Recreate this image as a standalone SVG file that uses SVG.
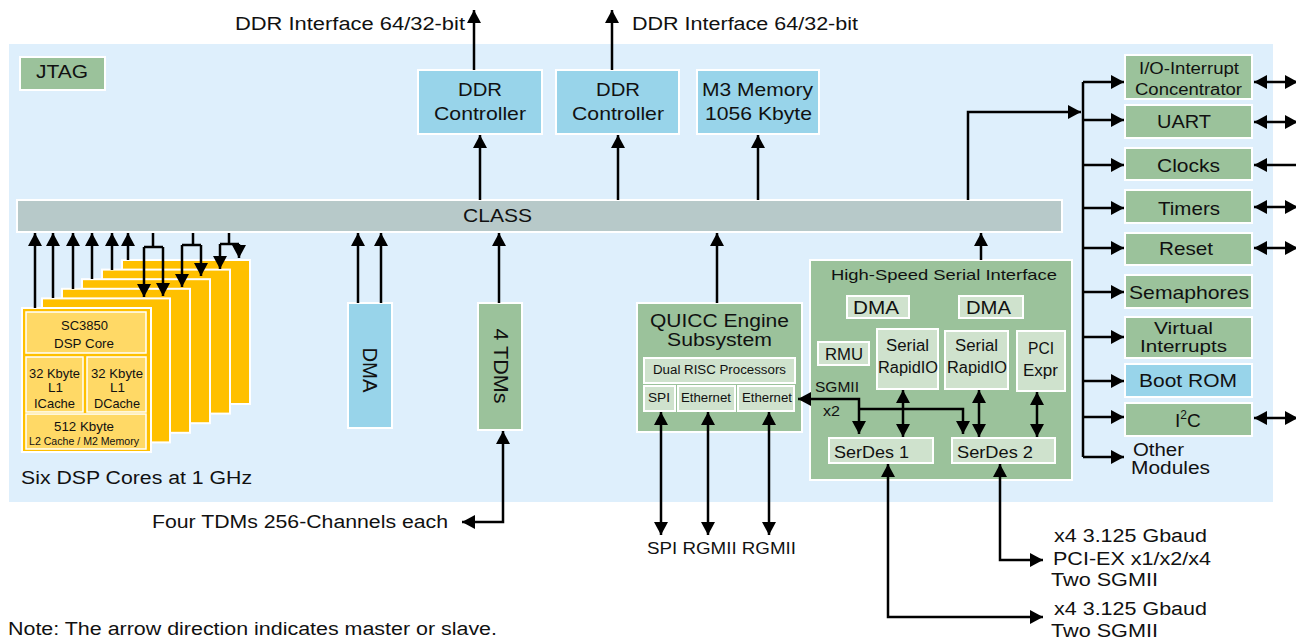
<svg xmlns="http://www.w3.org/2000/svg" width="1296" height="641" viewBox="0 0 1296 641">
<style>
text{font-family:"Liberation Sans",Arial,Helvetica,sans-serif;fill:#111}
.g{fill:#9BC29B;stroke:#fff;stroke-width:2}
.lg{fill:#CFE2CD;stroke:#fff;stroke-width:2}
.b{fill:#98D4EA;stroke:#fff;stroke-width:2}
.bus{fill:#B7C9C9;stroke:#fff;stroke-width:2}
.y{fill:#FFC000;stroke:#fff;stroke-width:2}
.ly{fill:#FFD966;stroke:#fff;stroke-width:1.5}
.ln{stroke:#000;stroke-width:2.5;fill:none}
.e{marker-end:url(#a)}
.s{marker-start:url(#a)}
</style>
<defs>
<marker id="a" viewBox="0 0 13 14" refX="13" refY="7" markerWidth="13" markerHeight="14" markerUnits="userSpaceOnUse" orient="auto-start-reverse">
<path d="M0,0L13,7L0,14z" fill="#000"/>
</marker>
</defs>
<rect x="9" y="44" width="1264" height="458" fill="#DEEFFC"/>

<g id="jtag"><rect class="g" x="20" y="57" width="85" height="33"/><text x="36" y="78" font-size="18" textLength="52" lengthAdjust="spacingAndGlyphs">JTAG</text></g>

<g id="ddr1"><rect class="b" x="418" y="70" width="124" height="64"/><text x="458" y="96" font-size="19" textLength="44" lengthAdjust="spacingAndGlyphs">DDR</text><text x="434" y="120" font-size="19" textLength="92" lengthAdjust="spacingAndGlyphs">Controller</text></g>
<g id="ddr2"><rect class="b" x="556" y="70" width="123" height="64"/><text x="596" y="96" font-size="19" textLength="44" lengthAdjust="spacingAndGlyphs">DDR</text><text x="572" y="120" font-size="19" textLength="92" lengthAdjust="spacingAndGlyphs">Controller</text></g>
<g id="m3"><rect class="b" x="697" y="70" width="122" height="64"/><text x="702" y="96" font-size="19" textLength="111" lengthAdjust="spacingAndGlyphs">M3 Memory</text><text x="705" y="120" font-size="19" textLength="107" lengthAdjust="spacingAndGlyphs">1056 Kbyte</text></g>

<g id="class"><rect class="bus" x="17" y="200" width="1045" height="32"/><text x="463" y="222" font-size="18" textLength="69" lengthAdjust="spacingAndGlyphs">CLASS</text></g>

<g id="dsp-cores">
<rect class="y" x="122" y="260" width="128" height="144"/>
<rect class="y" x="102" y="269.6" width="128" height="144"/>
<rect class="y" x="82" y="279.2" width="128" height="144"/>
<rect class="y" x="62" y="288.8" width="128" height="144"/>
<rect class="y" x="42" y="298.4" width="128" height="144"/>
<rect class="y" x="22" y="308" width="129" height="144"/>
<rect class="ly" x="26" y="312" width="120" height="41"/>
<rect class="ly" x="26" y="357" width="57" height="55"/>
<rect class="ly" x="87" y="357" width="59" height="55"/>
<rect class="ly" x="26" y="414" width="120" height="35"/>
<text x="61" y="330" font-size="13" textLength="47" lengthAdjust="spacingAndGlyphs">SC3850</text>
<text x="54" y="348" font-size="13" textLength="60" lengthAdjust="spacingAndGlyphs">DSP Core</text>
<text x="29" y="378" font-size="13" textLength="51" lengthAdjust="spacingAndGlyphs">32 Kbyte</text>
<text x="48" y="392" font-size="13" textLength="15" lengthAdjust="spacingAndGlyphs">L1</text>
<text x="34" y="408" font-size="13" textLength="41" lengthAdjust="spacingAndGlyphs">ICache</text>
<text x="91" y="378" font-size="13" textLength="52" lengthAdjust="spacingAndGlyphs">32 Kbyte</text>
<text x="110" y="392" font-size="13" textLength="15" lengthAdjust="spacingAndGlyphs">L1</text>
<text x="94" y="408" font-size="13" textLength="46" lengthAdjust="spacingAndGlyphs">DCache</text>
<text x="54" y="431" font-size="13" textLength="60" lengthAdjust="spacingAndGlyphs">512 Kbyte</text>
<text x="29" y="444.5" font-size="10" textLength="110" lengthAdjust="spacingAndGlyphs">L2 Cache / M2 Memory</text>
<text x="21" y="484" font-size="18" textLength="231" lengthAdjust="spacingAndGlyphs">Six DSP Cores at 1 GHz</text>
</g>

<g id="dma"><rect class="b" x="348" y="303" width="44" height="125"/><text transform="translate(370,370) rotate(90)" x="-22.5" y="7" font-size="20" textLength="45" lengthAdjust="spacingAndGlyphs">DMA</text></g>
<g id="tdm"><rect class="g" x="478" y="303" width="44" height="127"/><text transform="translate(501,366) rotate(90)" x="-37.5" y="7" font-size="20" textLength="75" lengthAdjust="spacingAndGlyphs">4 TDMs</text></g>

<g id="quicc">
<rect class="g" x="637" y="303" width="165" height="129"/>
<text x="650" y="327" font-size="18" textLength="139" lengthAdjust="spacingAndGlyphs">QUICC Engine</text>
<text x="667" y="346" font-size="18" textLength="105" lengthAdjust="spacingAndGlyphs">Subsystem</text>
<rect class="lg" x="644" y="358" width="151" height="25"/>
<text x="653" y="374" font-size="12" textLength="133" lengthAdjust="spacingAndGlyphs">Dual RISC Processors</text>
<rect class="lg" x="644" y="386" width="31" height="25"/>
<text x="648" y="402" font-size="12" textLength="22" lengthAdjust="spacingAndGlyphs">SPI</text>
<rect class="lg" x="678" y="386" width="57" height="25"/>
<text x="681" y="402" font-size="12" textLength="50" lengthAdjust="spacingAndGlyphs">Ethernet</text>
<rect class="lg" x="738" y="386" width="56" height="25"/>
<text x="742" y="402" font-size="12" textLength="50" lengthAdjust="spacingAndGlyphs">Ethernet</text>
</g>

<g id="hssi">
<rect class="g" x="810" y="260" width="262" height="220"/>
<text x="831" y="280" font-size="15" textLength="226" lengthAdjust="spacingAndGlyphs">High-Speed Serial Interface</text>
<rect class="lg" x="847" y="296" width="62" height="22"/>
<text x="853" y="314" font-size="19" textLength="46" lengthAdjust="spacingAndGlyphs">DMA</text>
<rect class="lg" x="959" y="296" width="64" height="22"/>
<text x="966" y="314" font-size="19" textLength="45" lengthAdjust="spacingAndGlyphs">DMA</text>
<rect class="lg" x="818" y="342" width="51" height="23"/>
<text x="825" y="360" font-size="16" textLength="38" lengthAdjust="spacingAndGlyphs">RMU</text>
<rect class="lg" x="877" y="329" width="61" height="60"/>
<text x="886" y="351" font-size="16" textLength="43" lengthAdjust="spacingAndGlyphs">Serial</text>
<text x="878" y="373" font-size="16" textLength="60" lengthAdjust="spacingAndGlyphs">RapidIO</text>
<rect class="lg" x="945" y="331" width="63" height="58"/>
<text x="955" y="351" font-size="16" textLength="43" lengthAdjust="spacingAndGlyphs">Serial</text>
<text x="947" y="373" font-size="16" textLength="60" lengthAdjust="spacingAndGlyphs">RapidIO</text>
<rect class="lg" x="1017" y="331" width="48" height="60"/>
<text x="1028" y="354" font-size="16" textLength="26" lengthAdjust="spacingAndGlyphs">PCI</text>
<text x="1023" y="376" font-size="16" textLength="35" lengthAdjust="spacingAndGlyphs">Expr</text>
<text x="815" y="392" font-size="14" textLength="44" lengthAdjust="spacingAndGlyphs">SGMII</text>
<text x="823" y="416" font-size="14" textLength="17" lengthAdjust="spacingAndGlyphs">x2</text>
<rect class="lg" x="829" y="438" width="104" height="25"/>
<text x="834" y="458" font-size="17" textLength="75" lengthAdjust="spacingAndGlyphs">SerDes 1</text>
<rect class="lg" x="952" y="438" width="103" height="25"/>
<text x="957" y="458" font-size="17" textLength="76" lengthAdjust="spacingAndGlyphs">SerDes 2</text>
</g>

<g id="io-int"><rect class="g" x="1125" y="55" width="127" height="44"/><text x="1139" y="74" font-size="16" textLength="100" lengthAdjust="spacingAndGlyphs">I/O-Interrupt</text><text x="1135" y="95" font-size="16" textLength="107" lengthAdjust="spacingAndGlyphs">Concentrator</text></g>
<g id="uart"><rect class="g" x="1125" y="105" width="127" height="33"/><text x="1157" y="128" font-size="19" textLength="54" lengthAdjust="spacingAndGlyphs">UART</text></g>
<g id="clocks"><rect class="g" x="1125" y="148" width="127" height="32"/><text x="1157" y="172" font-size="19" textLength="63" lengthAdjust="spacingAndGlyphs">Clocks</text></g>
<g id="timers"><rect class="g" x="1125" y="190" width="127" height="33"/><text x="1158" y="215" font-size="19" textLength="62" lengthAdjust="spacingAndGlyphs">Timers</text></g>
<g id="reset"><rect class="g" x="1125" y="233" width="127" height="32"/><text x="1159" y="255" font-size="19" textLength="54" lengthAdjust="spacingAndGlyphs">Reset</text></g>
<g id="semaphores"><rect class="g" x="1125" y="275" width="127" height="33"/><text x="1129" y="299" font-size="19" textLength="120" lengthAdjust="spacingAndGlyphs">Semaphores</text></g>
<g id="virtual-int"><rect class="g" x="1125" y="317" width="127" height="41"/><text x="1154" y="334" font-size="16" textLength="59" lengthAdjust="spacingAndGlyphs">Virtual</text><text x="1140" y="352" font-size="16" textLength="87" lengthAdjust="spacingAndGlyphs">Interrupts</text></g>
<g id="bootrom"><rect class="b" x="1125" y="364" width="127" height="33"/><text x="1139" y="387" font-size="19" textLength="98" lengthAdjust="spacingAndGlyphs">Boot ROM</text></g>
<g id="i2c"><rect class="g" x="1125" y="403" width="127" height="33"/><text x="1175" y="427" font-size="19">I<tspan dy="-8" font-size="12">2</tspan><tspan dy="8">C</tspan></text></g>
<g id="other"><text x="1133" y="456" font-size="18" textLength="51" lengthAdjust="spacingAndGlyphs">Other</text><text x="1131" y="474" font-size="18" textLength="79" lengthAdjust="spacingAndGlyphs">Modules</text></g>

<g id="labels">
<text x="235" y="30" font-size="18" textLength="230" lengthAdjust="spacingAndGlyphs">DDR Interface 64/32-bit</text>
<text x="632" y="30" font-size="18" textLength="226" lengthAdjust="spacingAndGlyphs">DDR Interface 64/32-bit</text>
<text x="152" y="528" font-size="18" textLength="296" lengthAdjust="spacingAndGlyphs">Four TDMs 256-Channels each</text>
<text x="647" y="554" font-size="16" textLength="149" lengthAdjust="spacingAndGlyphs">SPI RGMII RGMII</text>
<text x="1054" y="542" font-size="18" textLength="153" lengthAdjust="spacingAndGlyphs">x4 3.125 Gbaud</text>
<text x="1053" y="565" font-size="18" textLength="158" lengthAdjust="spacingAndGlyphs">PCI-EX x1/x2/x4</text>
<text x="1051" y="586" font-size="18" textLength="107" lengthAdjust="spacingAndGlyphs">Two SGMII</text>
<text x="1054" y="615" font-size="18" textLength="153" lengthAdjust="spacingAndGlyphs">x4 3.125 Gbaud</text>
<text x="1051" y="637" font-size="18" textLength="107" lengthAdjust="spacingAndGlyphs">Two SGMII</text>
<text x="8" y="635" font-size="18" textLength="489" lengthAdjust="spacingAndGlyphs">Note: The arrow direction indicates master or slave.</text>
</g>

<g id="connectors">
<path class="ln e" d="M35,308V233"/>
<path class="ln e" d="M53,298V233"/>
<path class="ln e" d="M73,289V233"/>
<path class="ln e" d="M92,279V233"/>
<path class="ln e" d="M112,270V233"/>
<path class="ln e" d="M128,260V233"/>
<path class="ln" d="M153,233V247M144,247H163M193,233V245M182,245H201M229,233V244M220,244H239"/>
<path class="ln e" d="M144,247V297"/>
<path class="ln e" d="M163,247V296"/>
<path class="ln e" d="M182,245V287"/>
<path class="ln e" d="M201,245V276"/>
<path class="ln e" d="M220,244V269"/>
<path class="ln e" d="M239,244V258"/>
<path class="ln e" d="M480,200V135"/>
<path class="ln e" d="M474,70V10"/>
<path class="ln e" d="M618,200V135"/>
<path class="ln e" d="M612,70V10"/>
<path class="ln e" d="M758,200V135"/>
<path class="ln e" d="M358,303V233"/>
<path class="ln e" d="M381,303V233"/>
<path class="ln e" d="M499,303V233"/>
<path class="ln s e" d="M462,522H503V431"/>
<path class="ln e" d="M717,303V233"/>
<path class="ln e" d="M981,260V233"/>
<path class="ln e" d="M968,200V112H1081"/>
<path class="ln" d="M1083,82V457"/>
<path class="ln e" d="M1083,82H1124"/>
<path class="ln e" d="M1083,120H1124"/>
<path class="ln e" d="M1083,165H1124"/>
<path class="ln e" d="M1083,208H1124"/>
<path class="ln e" d="M1083,248H1124"/>
<path class="ln e" d="M1083,292H1124"/>
<path class="ln e" d="M1083,337H1124"/>
<path class="ln e" d="M1083,381H1124"/>
<path class="ln e" d="M1083,417H1124"/>
<path class="ln e" d="M1083,457H1124"/>
<path class="ln s e" d="M1254,82H1298"/>
<path class="ln s e" d="M1254,122H1298"/>
<path class="ln e" d="M1298,165H1254"/>
<path class="ln s e" d="M1254,207H1298"/>
<path class="ln s e" d="M1254,248H1298"/>
<path class="ln s e" d="M1254,418H1298"/>
<path class="ln s e" d="M661,412V535"/>
<path class="ln s e" d="M708,412V535"/>
<path class="ln s e" d="M769,412V535"/>
<path class="ln s e" d="M798,399H859V434"/>
<path class="ln e" d="M859,409H963V434"/>
<path class="ln s e" d="M903,390V437"/>
<path class="ln s e" d="M979,390V437"/>
<path class="ln s e" d="M1037,392V437"/>
<path class="ln s e" d="M888,464V617H1043"/>
<path class="ln s e" d="M1000,464V560H1043"/>
</g>
</svg>
